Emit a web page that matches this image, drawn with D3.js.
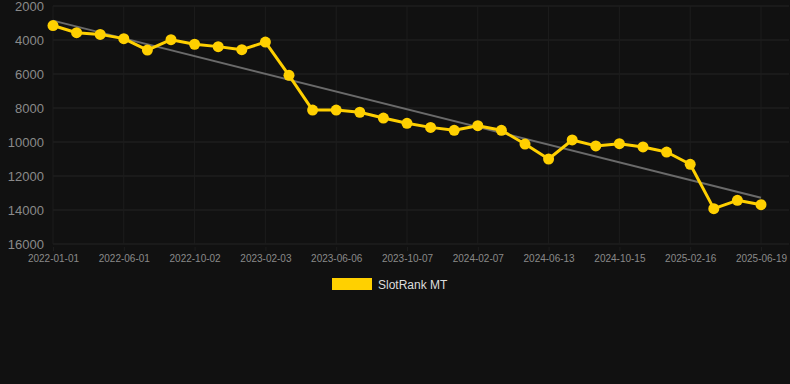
<!DOCTYPE html>
<html><head><meta charset="utf-8">
<script src="https://cdn.jsdelivr.net/npm/d3@7"></script>
<style>
html,body{margin:0;padding:0;background:#111111;}
svg{display:block;font-family:"Liberation Sans",Arial,Helvetica,sans-serif;}
</style></head>
<body>
<svg id="c" width="790" height="384"></svg>
<script>
const dates = ["2022-01-01","2022-02-20","2022-04-11","2022-06-01","2022-07-12","2022-08-22","2022-10-02","2022-11-05","2022-12-10","2023-02-03","2023-03-20","2023-04-28","2023-06-06","2023-07-17","2023-08-27","2023-10-07","2023-11-07","2023-12-08","2024-02-07","2024-03-20","2024-05-02","2024-06-13","2024-07-24","2024-09-03","2024-10-15","2024-11-25","2025-01-05","2025-02-16","2025-03-30","2025-05-09","2025-06-19"];
const ranks = [3150,3570,3670,3920,4590,3980,4250,4390,4570,4120,6080,8120,8120,8250,8590,8900,9140,9310,9040,9310,10120,11000,9880,10230,10100,10290,10590,11310,13920,13430,13690];
const trendValues = [2860,13280];
const yTicks = [2000,4000,6000,8000,10000,12000,14000,16000];
const seriesName = "SlotRank MT";

(function(){
const svg = d3.select("#c");
const pL = 53, pR = 761, pT = 6, pB = 244;
const x = d3.scalePoint().domain(dates).range([pL,pR]);
const y = d3.scaleLinear().domain([2000,16000]).range([pT,pB]);
const shownTicks = dates.filter((d,i)=>i%3===0);

svg.append("g").selectAll("line").data(yTicks).join("line")
  .attr("x1",pL).attr("x2",pR+28).attr("y1",d=>y(d)).attr("y2",d=>y(d))
  .attr("stroke","#252525").attr("stroke-width",1);
svg.append("g").selectAll("line").data(shownTicks).join("line")
  .attr("x1",d=>x(d)).attr("x2",d=>x(d)).attr("y1",pT).attr("y2",pB)
  .attr("stroke","#1d1d1d").attr("stroke-width",1);

const ya = svg.append("g").attr("transform",`translate(${pL-9},0)`)
  .call(d3.axisLeft(y).tickValues(yTicks).tickFormat(d3.format("d")).tickSize(0).tickPadding(0));
ya.select(".domain").remove();
ya.selectAll("text").attr("fill","#8a8a8a").attr("font-size","13px").style("font-family","Liberation Sans, Arial");

const xa = svg.append("g").attr("transform",`translate(0,${pB+3})`)
  .call(d3.axisBottom(x).tickValues(shownTicks).tickSize(4).tickPadding(4));
xa.select(".domain").remove();
xa.selectAll("line").attr("stroke","#1d1d1d");
xa.selectAll("text").attr("fill","#8a8a8a").attr("font-size","10px").style("font-family","Liberation Sans, Arial");

svg.append("line")
  .attr("x1",x(dates[0])).attr("y1",y(trendValues[0]))
  .attr("x2",x(dates[dates.length-1])).attr("y2",y(trendValues[1]))
  .attr("stroke","#6a6a6a").attr("stroke-width",2);

const data = dates.map((d,i)=>({d,v:ranks[i]}));
svg.append("path").datum(data)
  .attr("d",d3.line().x(p=>x(p.d)).y(p=>y(p.v)))
  .attr("fill","none").attr("stroke","#FFD000").attr("stroke-width",3).attr("stroke-linejoin","round");
svg.append("g").selectAll("circle").data(data).join("circle")
  .attr("cx",p=>x(p.d)).attr("cy",p=>y(p.v)).attr("r",5.5)
  .attr("fill","#FFD000");

svg.append("rect").attr("x",332).attr("y",278).attr("width",40).attr("height",12).attr("fill","#FFD000");
svg.append("text").attr("x",378).attr("y",289).attr("fill","#dddddd").attr("font-size","12px").text(seriesName);
})();
</script>
</body></html>
